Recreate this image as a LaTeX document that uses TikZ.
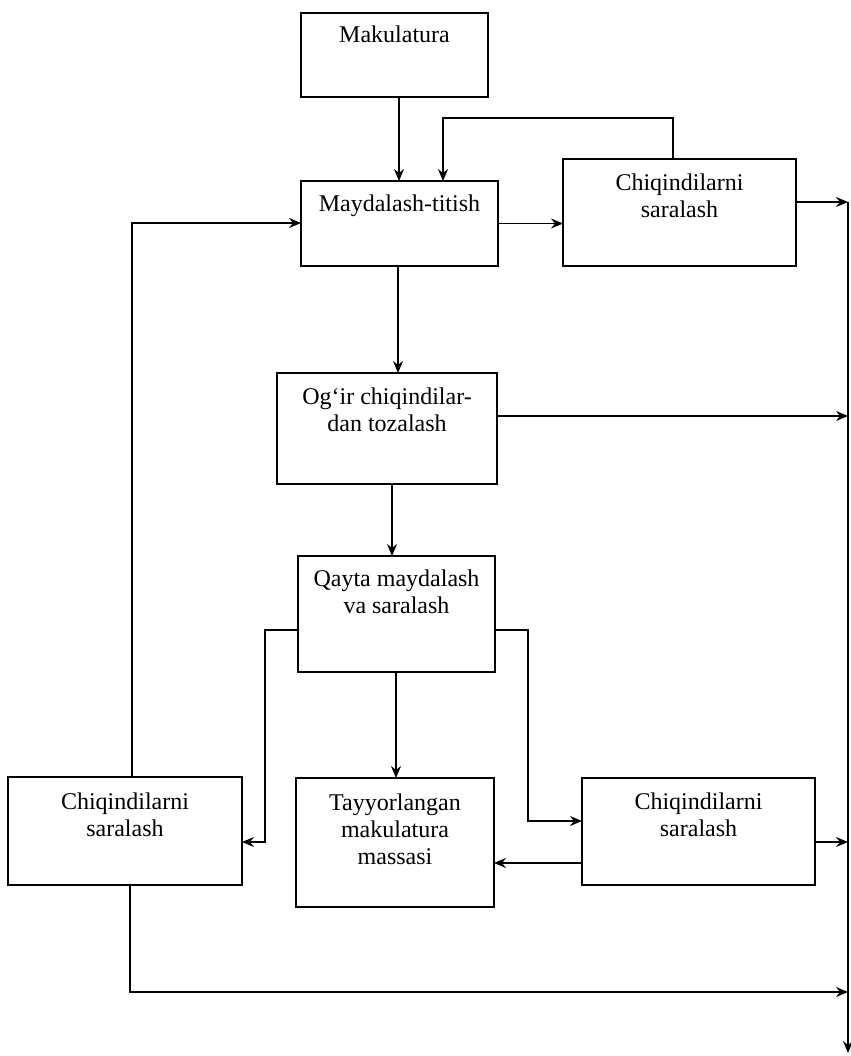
\documentclass[tikz,border=0pt]{standalone}
\usepackage{fontspec}
\setmainfont{Liberation Serif}
\usetikzlibrary{arrows.meta}
\begin{document}
\begin{tikzpicture}[x=0.75pt,y=-0.75pt,
  box/.style={draw, line width=0.95pt, inner sep=0pt, outer sep=0pt},
  lbl/.style={inner sep=0pt, align=center, font=\fontsize{18}{20}\selectfont, anchor=base},
  arr/.style={line width=0.9pt, -{Stealth[length=9pt,width=7.5pt,inset=3pt]}},
  arrb/.style={line width=1.3pt, -{Stealth[length=9pt,width=7.5pt,inset=3pt]}}]
\useasboundingbox (0,0) rectangle (850,1056);
\fill[white] (0,0) rectangle (850,1056);

% boxes
\node[box, minimum width=140.25pt, minimum height=63pt] (mak) at (394.5,55) {};
\node[box, minimum width=147.75pt, minimum height=63.75pt] (may) at (399.5,223.5) {};
\node[box, minimum width=174.75pt, minimum height=80.25pt] (chi1) at (679.5,212.5) {};
\node[box, minimum width=165pt, minimum height=83.25pt] (ogr) at (387,428.5) {};
\node[box, minimum width=147.75pt, minimum height=87pt] (qay) at (396.5,614) {};
\node[box, minimum width=175.5pt, minimum height=81pt] (chiL) at (125,831) {};
\node[box, minimum width=148.5pt, minimum height=96.75pt] (tay) at (395,842.5) {};
\node[box, minimum width=174.75pt, minimum height=80.25pt] (chiR) at (698.5,831.5) {};

% labels (base anchor = baseline of the last line)
\node[lbl] (makt) at (394.5,43) {Makulatura};
\node[lbl] (mayt) at (399.5,211) {Maydalash-titish};
\node[lbl] (chi1t) at (679.5,217) {Chiqindilarni\\saralash};
\node[lbl] (ogrt) at (387,431) {Og‘ir chiqindilar-\\dan tozalash};
\node[lbl] (qayt) at (396.5,613) {Qayta maydalash\\va saralash};
\node[lbl] (chiLt) at (125,836) {Chiqindilarni\\saralash};
\node[lbl] (tayt) at (395,864) {Tayyorlangan\\makulatura\\massasi};
\node[lbl] (chiRt) at (698.5,836) {Chiqindilarni\\saralash};

% helper coordinates
\coordinate (vmak) at (399,0);
\coordinate (tf1) at (673,118);
\coordinate (tf2) at (443,118);
\coordinate (rtop) at (848,202);
\coordinate (rbot) at (848,1053);
\coordinate (vmay) at (398,0);
\coordinate (ogrout) at (848,416);
\coordinate (vogr) at (392,0);
\coordinate (vqay) at (396,0);
\coordinate (ql) at (265,630);
\coordinate (ql2) at (265,842);
\coordinate (qr) at (528,630);
\coordinate (qr2) at (528,821);
\coordinate (ct) at (582,863);
\coordinate (chiRout) at (848,842);
\coordinate (lfb) at (132,223);
\coordinate (botL) at (130,992);
\coordinate (botout) at (848,992);

% connectors
\draw[arr] (mak.south -| vmak) -- (may.north -| vmak);
\draw[arr] (chi1.north -| tf1) -- (tf1) -- (tf2) -- (may.north -| tf2);
\draw[arr] (may.east) -- (chi1.west |- may.east);
\draw[arr] (chi1.east |- rtop) -- (rtop);
\draw[arr, line width=1.1pt] (rtop) -- (rbot);
\draw[arr] (may.south -| vmay) -- (ogr.north -| vmay);
\draw[arrb] (ogr.east |- ogrout) -- (ogrout);
\draw[arr] (ogr.south -| vogr) -- (qay.north -| vogr);
\draw[arr] (qay.south -| vqay) -- (tay.north -| vqay);
\draw[arr] (qay.west |- ql) -- (ql) -- (ql2) -- (chiL.east |- ql2);
\draw[arr] (qay.east |- qr) -- (qr) -- (qr2) -- (chiR.west |- qr2);
\draw[arr] (chiR.west |- ct) -- (tay.east |- ct);
\draw[arr] (chiR.east |- chiRout) -- (chiRout);
\draw[arr] (chiL.north -| lfb) -- (lfb) -- (may.west |- lfb);
\draw[arrb] (chiL.south -| botL) -- (botL) -- (botout);
\end{tikzpicture}
\end{document}
